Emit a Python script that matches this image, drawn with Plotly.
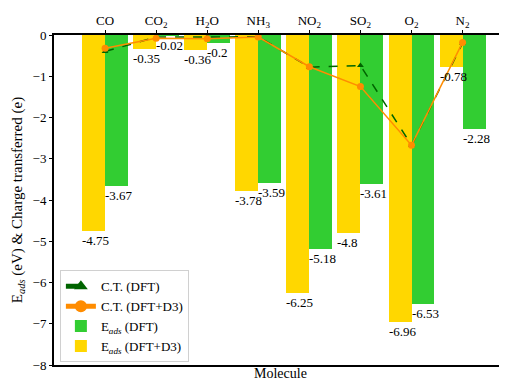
import plotly.graph_objects as go

molecules = ["CO", "CO<sub>2</sub>", "H<sub>2</sub>O", "NH<sub>3</sub>", "NO<sub>2</sub>", "SO<sub>2</sub>", "O<sub>2</sub>", "N<sub>2</sub>"]
eads_dft_d3 = [-4.75, -0.35, -0.36, -3.78, -6.25, -4.8, -6.96, -0.78]
eads_dft = [-3.67, -0.02, -0.2, -3.59, -5.18, -3.61, -6.53, -2.28]
ct_dft = [-0.40, -0.05, -0.05, -0.04, -0.78, -0.74, -2.67, -0.20]
ct_dft_d3 = [-0.32, -0.08, -0.09, -0.05, -0.77, -1.25, -2.67, -0.18]

xs = list(range(len(molecules)))
W = 0.45
FONT = "Liberation Serif"

fig = go.Figure()
fig.add_trace(go.Bar(x=xs, y=eads_dft_d3, width=W, offset=-W, marker=dict(color="#FFD700", line_width=0),
                     name="E<sub><i>ads</i></sub> (DFT+D3)", legendrank=4))
fig.add_trace(go.Bar(x=xs, y=eads_dft, width=W, offset=0, marker=dict(color="#32CD32", line_width=0),
                     name="E<sub><i>ads</i></sub> (DFT)", legendrank=3))
fig.add_trace(go.Scatter(x=xs, y=ct_dft, mode="lines+markers", name="C.T. (DFT)",
                         line=dict(color="#006400", dash="dash", width=1.5),
                         marker=dict(symbol="triangle-up", size=6, color="#006400"), legendrank=1))
fig.add_trace(go.Scatter(x=xs, y=ct_dft_d3, mode="lines+markers", name="C.T. (DFT+D3)",
                         line=dict(color="#FF8C00", width=1.5),
                         marker=dict(symbol="circle", size=7, color="#FF8C00"), legendrank=2))

annotations = []
for i, v in enumerate(eads_dft_d3):
    annotations.append(dict(x=i - W, y=v, text=f"{v:g}", xanchor="left", yanchor="top", showarrow=False,
                            xshift=-2, font=dict(family=FONT, size=13, color="black")))
for i, v in enumerate(eads_dft):
    annotations.append(dict(x=i, y=v, text=f"{v:g}", xanchor="left", yanchor="top", showarrow=False,
                            xshift=-2, font=dict(family=FONT, size=13, color="black")))
annotations.append(dict(x=0.5, y=0, xref="paper", yref="paper", yanchor="top", yshift=1, text="Molecule",
                        showarrow=False, font=dict(family=FONT, size=14, color="black")))

# page body has an 8px margin, so the figure is sized/offset to compensate
fig.update_layout(
    width=499, height=373,
    margin=dict(l=46, r=0, t=27, b=16, autoexpand=False),
    paper_bgcolor="white", plot_bgcolor="white",
    barmode="overlay", bargap=0,
    font=dict(family=FONT, size=13, color="black"),
    annotations=annotations,
    showlegend=True,
    legend=dict(x=0.013, y=0.008, xanchor="left", yanchor="bottom", bgcolor="white",
                bordercolor="#d0d0d0", borderwidth=1, font=dict(family=FONT, size=13),
                tracegroupgap=0, itemsizing="constant"),
    xaxis=dict(range=[-1, 7.87], tickvals=xs, ticktext=molecules, side="top", automargin=False,
               showline=True, linecolor="black", linewidth=2, mirror=True,
               ticks="outside", ticklen=3, tickcolor="black", showgrid=False, zeroline=False,
               tickfont=dict(family=FONT, size=13)),
    yaxis=dict(range=[-8, 0], dtick=1, showline=True, linecolor="black", linewidth=2, automargin=False,
               ticks="outside", ticklen=3, tickcolor="black", showgrid=False, zeroline=False,
               tickfont=dict(family=FONT, size=13),
               title=dict(text="E<sub><i>ads</i></sub> (eV) & Charge transferred (e)",
                          font=dict(family=FONT, size=15), standoff=6)),
)

fig.write_html("out.html")
